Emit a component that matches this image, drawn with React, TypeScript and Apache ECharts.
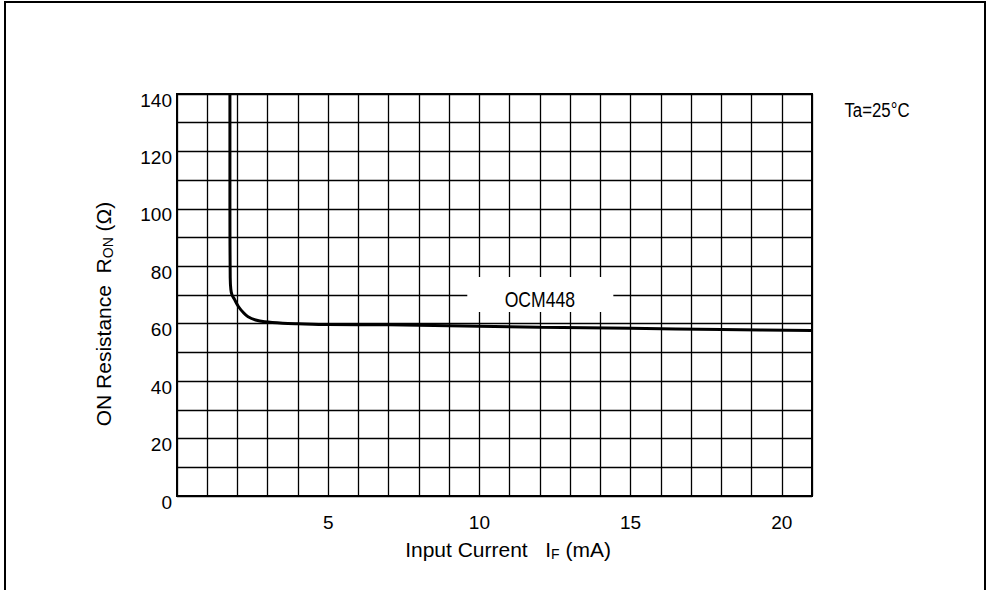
import React, { useEffect, useRef } from "react";
import * as echarts from "echarts";

const currentMA = [1.75, 1.75, 1.76, 1.78, 1.82, 1.9, 2.03, 2.2, 2.35, 2.6, 2.9, 3.5, 4, 5, 7, 9, 12, 15, 18, 21];
const resistanceOhm = [140, 100, 76, 72, 70, 68.5, 66, 63.8, 62.4, 61.3, 60.7, 60.2, 60, 59.7, 59.6, 59.3, 58.8, 58.4, 58, 57.6];
const xTickLabels = [5, 10, 15, 20];
const yTickLabels = [0, 20, 40, 60, 80, 100, 120, 140];
const seriesName = "OCM448";
const labelBoxX = [9.6, 14.43];
const labelBoxY = [64.1, 76.3];
const labelAt = [12.0, 68.6];
const conditionText = "Ta=25°C";
const xName = "{a|Input Current   I}{s|F}{a| (mA)}";
const yName = "{a|ON Resistance  R}{s|ON}{a| (Ω)}";

const FONT = "'Liberation Sans', Arial, sans-serif";
const rich = {
  a: { fontFamily: FONT, fontSize: 21, fill: "#000", color: "#000" },
  s: { fontFamily: FONT, fontSize: 14, fill: "#000", color: "#000", padding: [9, 0, 0, 0] },
};

export default function App() {
  const ref = useRef<HTMLDivElement>(null);
  useEffect(() => {
    if (!ref.current) return;
    const chart = echarts.init(ref.current, undefined, { renderer: "svg" });
    const data = currentMA.map((x, i) => [x, resistanceOhm[i]]);
    chart.setOption({
      animation: false,
      backgroundColor: "#ffffff",
      grid: { left: 177, top: 94, right: 180, bottom: 94, show: true, borderColor: "#000", borderWidth: 2, backgroundColor: "transparent" },
      xAxis: {
        type: "value",
        min: 0,
        max: 21,
        interval: 1,
        axisLine: { show: false },
        axisTick: { show: false },
        axisLabel: {
          margin: 17,
          fontFamily: FONT,
          fontSize: 19,
          color: "#000",
          formatter: (v: number) => (xTickLabels.includes(v) ? String(v) : ""),
        },
        splitLine: { show: true, lineStyle: { color: "#000", width: 1.3 } },
      },
      yAxis: {
        type: "value",
        min: 0,
        max: 140,
        interval: 10,
        axisLine: { show: false },
        axisTick: { show: false },
        axisLabel: {
          margin: 5,
          fontFamily: FONT,
          fontSize: 19,
          color: "#000",
          verticalAlign: "top",
          lineHeight: 12,
          formatter: (v: number) => (yTickLabels.includes(v) ? String(v) : ""),
        },
        splitLine: { show: true, lineStyle: { color: "#000", width: 1.3 } },
      },
      series: [
        {
          name: seriesName,
          type: "line",
          data,
          smooth: 0.3,
          showSymbol: false,
          lineStyle: { color: "#000", width: 3 },
          markArea: {
            silent: true,
            itemStyle: { color: "#fff" },
            label: { show: false },
            data: [[{ coord: [labelBoxX[0], labelBoxY[1]] }, { coord: [labelBoxX[1], labelBoxY[0]] }]],
          },
          z: 3,
        },
      ],
    });
    const p = chart.convertToPixel({ gridIndex: 0 }, labelAt) as number[];
    chart.setOption({
      graphic: [
        { type: "rect", shape: { x: 5, y: 2, width: 980, height: 620 }, style: { fill: "none", stroke: "#000", lineWidth: 2 }, silent: true },
        { type: "text", x: 877, y: 110, scaleX: 0.8, style: { text: conditionText, fontFamily: FONT, fontSize: 21, fill: "#000", align: "center", verticalAlign: "middle" } },
        { type: "text", x: p[0], y: p[1], scaleX: 0.8, z: 10, style: { text: seriesName, fontFamily: FONT, fontSize: 22, fill: "#000", align: "center", verticalAlign: "middle" } },
        { type: "text", x: 508, y: 549, style: { text: xName, rich, align: "center", verticalAlign: "middle" } },
        { type: "text", x: 103, y: 314, rotation: Math.PI / 2, style: { text: yName, rich, align: "center", verticalAlign: "middle" } },
      ],
    });
    return () => chart.dispose();
  }, []);
  return <div ref={ref} style={{ position: "absolute", left: 0, top: 0, width: 992, height: 590 }} />;
}
